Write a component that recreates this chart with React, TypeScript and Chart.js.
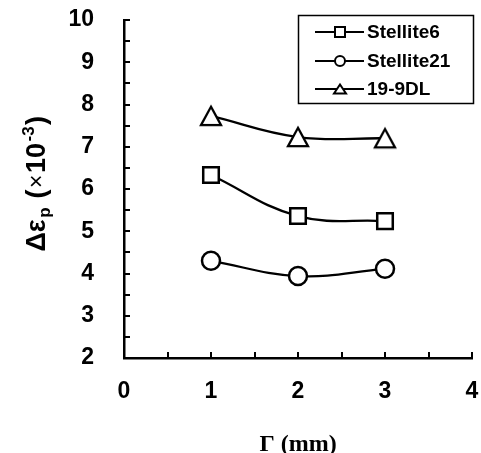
import React, { useEffect, useRef } from 'react';
import { Chart, registerables } from 'chart.js';

Chart.register(...registerables);

// ---- data ----
const gammaMm = [1, 2, 3];
const stellite6 = [6.33, 5.36, 5.24];
const stellite21 = [4.3, 3.94, 4.11];
const dl199 = [7.73, 7.23, 7.2];
const seriesNames = ['Stellite6', 'Stellite21', '19-9DL'];
const xTickValues = [0, 1, 2, 3, 4];
const yTickValues = [2, 3, 4, 5, 6, 7, 8, 9, 10];
const xTitle = 'Γ (mm)';

function makeTriangle(size: number, lw: number): HTMLCanvasElement {
  const c = document.createElement('canvas');
  c.width = size;
  c.height = size;
  const g = c.getContext('2d')!;
  const w = size - 8;
  const h = w * 0.92;
  const cx = size / 2;
  const cy = size / 2;
  g.beginPath();
  g.moveTo(cx, cy - h / 2);
  g.lineTo(cx + w / 2, cy + h / 2);
  g.lineTo(cx - w / 2, cy + h / 2);
  g.closePath();
  g.fillStyle = '#fff';
  g.fill();
  g.lineWidth = lw;
  g.lineJoin = 'miter';
  g.strokeStyle = '#000';
  g.stroke();
  return c;
}

function drawMarker(ctx: CanvasRenderingContext2D, kind: string, x: number, y: number, s: number) {
  ctx.save();
  ctx.fillStyle = '#fff';
  ctx.strokeStyle = '#000';
  ctx.lineWidth = 2;
  ctx.beginPath();
  if (kind === 'rect') {
    ctx.rect(x - s / 2, y - s / 2, s, s);
  } else if (kind === 'circle') {
    ctx.arc(x, y, s / 2, 0, Math.PI * 2);
  } else {
    const h = s * 0.9;
    ctx.moveTo(x, y - h / 2);
    ctx.lineTo(x + s / 2 + 1, y + h / 2);
    ctx.lineTo(x - s / 2 - 1, y + h / 2);
    ctx.closePath();
  }
  ctx.fill();
  ctx.stroke();
  ctx.restore();
}

const minorTicksPlugin = {
  id: 'minorTicks',
  afterDatasetsDraw(chart: any) {
    const { ctx, chartArea, scales } = chart;
    const xs = scales.x;
    const ys = scales.y;
    ctx.save();
    ctx.strokeStyle = '#000';
    ctx.lineWidth = 2;
    ctx.beginPath();
    for (let v = xs.min + 0.5; v <= xs.max + 1e-9; v += 0.5) {
      const px = Math.round(xs.getPixelForValue(v));
      ctx.moveTo(px, chartArea.bottom);
      ctx.lineTo(px, chartArea.bottom - 6);
    }
    for (let v = ys.min + 0.5; v <= ys.max + 1e-9; v += 0.5) {
      const py = Math.round(ys.getPixelForValue(v));
      ctx.moveTo(chartArea.left, py);
      ctx.lineTo(chartArea.left + 6, py);
    }
    ctx.stroke();
    ctx.restore();
  },
};

const yTitlePlugin = {
  id: 'yTitle',
  afterDraw(chart: any) {
    const { ctx } = chart;
    const F = '"Liberation Sans", Arial, sans-serif';
    const segs = [
      { t: 'Δε', f: `bold 27px ${F}`, dy: 0 },
      { t: 'p', f: `bold 17px ${F}`, dy: 5 },
      { t: ' (', f: `bold 27px ${F}`, dy: 0 },
      { t: '×', f: `23px ${F}`, dy: -1 },
      { t: '10', f: `bold 27px ${F}`, dy: 0 },
      { t: '-3', f: `bold 17px ${F}`, dy: -11 },
      { t: ')', f: `bold 27px ${F}`, dy: 0 },
    ];
    ctx.save();
    let total = 0;
    const widths = segs.map((s) => {
      ctx.font = s.f;
      const w = ctx.measureText(s.t).width + 1.5;
      total += w;
      return w;
    });
    const cy = 183;
    ctx.translate(45, cy);
    ctx.rotate(-Math.PI / 2);
    ctx.fillStyle = '#000';
    ctx.textBaseline = 'alphabetic';
    ctx.textAlign = 'left';
    let x = -total / 2;
    segs.forEach((s, i) => {
      ctx.font = s.f;
      ctx.fillText(s.t, x, s.dy);
      x += widths[i];
    });
    ctx.restore();
  },
};

const legendPlugin = {
  id: 'boxLegend',
  afterDraw(chart: any) {
    const { ctx } = chart;
    const kinds = ['rect', 'circle', 'triangle'];
    ctx.save();
    ctx.strokeStyle = '#000';
    ctx.lineWidth = 1.5;
    ctx.strokeRect(298.5, 15.5, 175, 88);
    const rows = [32, 61, 89];
    chart.data.datasets.forEach((ds: any, i: number) => {
      const y = rows[i];
      ctx.beginPath();
      ctx.strokeStyle = '#000';
      ctx.lineWidth = 2;
      ctx.moveTo(315, y);
      ctx.lineTo(364, y);
      ctx.stroke();
      drawMarker(ctx, kinds[i], 340, y, 10);
      ctx.fillStyle = '#000';
      ctx.font = 'bold 19px "Liberation Sans", Arial, sans-serif';
      ctx.textBaseline = 'middle';
      ctx.textAlign = 'left';
      ctx.fillText(ds.label, 367, y + 1);
    });
    ctx.restore();
  },
};

export default function App() {
  const ref = useRef<HTMLCanvasElement>(null);

  useEffect(() => {
    document.body.style.margin = '0';
    document.body.style.background = '#fff';
    const canvas = ref.current!;
    const tri = makeTriangle(28, 2.3);
    const tickFont = { family: '"Liberation Sans", Arial, sans-serif', size: 23, weight: 'bold' as const };
    const chart = new Chart(canvas, {
      type: 'line',
      data: {
        datasets: [
          {
            label: seriesNames[0],
            data: gammaMm.map((x, i) => ({ x, y: stellite6[i] })),
            borderColor: '#000',
            borderWidth: 2.3,
            tension: 0.4,
            pointStyle: 'rect',
            pointRadius: 11,
            pointBorderWidth: 2.5,
            pointBackgroundColor: '#fff',
            pointBorderColor: '#000',
          },
          {
            label: seriesNames[1],
            data: gammaMm.map((x, i) => ({ x, y: stellite21[i] })),
            borderColor: '#000',
            borderWidth: 2.3,
            tension: 0.4,
            pointStyle: 'circle',
            pointRadius: 9,
            pointBorderWidth: 2.5,
            pointBackgroundColor: '#fff',
            pointBorderColor: '#000',
          },
          {
            label: seriesNames[2],
            data: gammaMm.map((x, i) => ({ x, y: dl199[i] })),
            borderColor: '#000',
            borderWidth: 2.3,
            tension: 0.4,
            pointStyle: tri as any,
            pointRadius: 11,
            pointBackgroundColor: '#fff',
            pointBorderColor: '#000',
          },
        ],
      },
      options: {
        responsive: false,
        animation: false,
        devicePixelRatio: 1,
        layout: { autoPadding: false, padding: { left: 0, right: 9, top: 20, bottom: 0 } },
        plugins: { legend: { display: false }, tooltip: { enabled: false } },
        scales: {
          x: {
            type: 'linear',
            min: xTickValues[0],
            max: xTickValues[xTickValues.length - 1],
            afterBuildTicks: (s: any) => {
              s.ticks = xTickValues.map((v) => ({ value: v }));
            },
            afterFit: (s: any) => {
              s.height = 95;
              s.paddingLeft = 0;
              s.paddingRight = 0;
            },
            grid: { display: false, drawTicks: false },
            border: { display: true, color: '#000', width: 2.5 },
            ticks: { color: '#000', font: tickFont, padding: 20, maxRotation: 0 },
            title: {
              display: true,
              text: xTitle,
              color: '#000',
              font: { family: '"Liberation Serif", "Times New Roman", serif', size: 24, weight: 'bold', lineHeight: 1 },
              padding: { top: 0, bottom: -4 },
            },
          },
          y: {
            type: 'linear',
            min: yTickValues[0],
            max: yTickValues[yTickValues.length - 1],
            afterBuildTicks: (s: any) => {
              s.ticks = yTickValues.map((v) => ({ value: v }));
            },
            afterFit: (s: any) => {
              s.width = 124;
              s.paddingTop = 0;
              s.paddingBottom = 0;
            },
            grid: { display: false, drawTicks: false },
            border: { display: true, color: '#000', width: 2.5 },
            ticks: { color: '#000', font: tickFont, padding: 30 },
          },
        },
      },
      plugins: [minorTicksPlugin, yTitlePlugin, legendPlugin],
    });
    return () => chart.destroy();
  }, []);

  return (
    <div style={{ width: 481, height: 453, background: '#fff' }}>
      <canvas ref={ref} width={481} height={453} style={{ display: 'block', width: 481, height: 453 }} />
    </div>
  );
}
